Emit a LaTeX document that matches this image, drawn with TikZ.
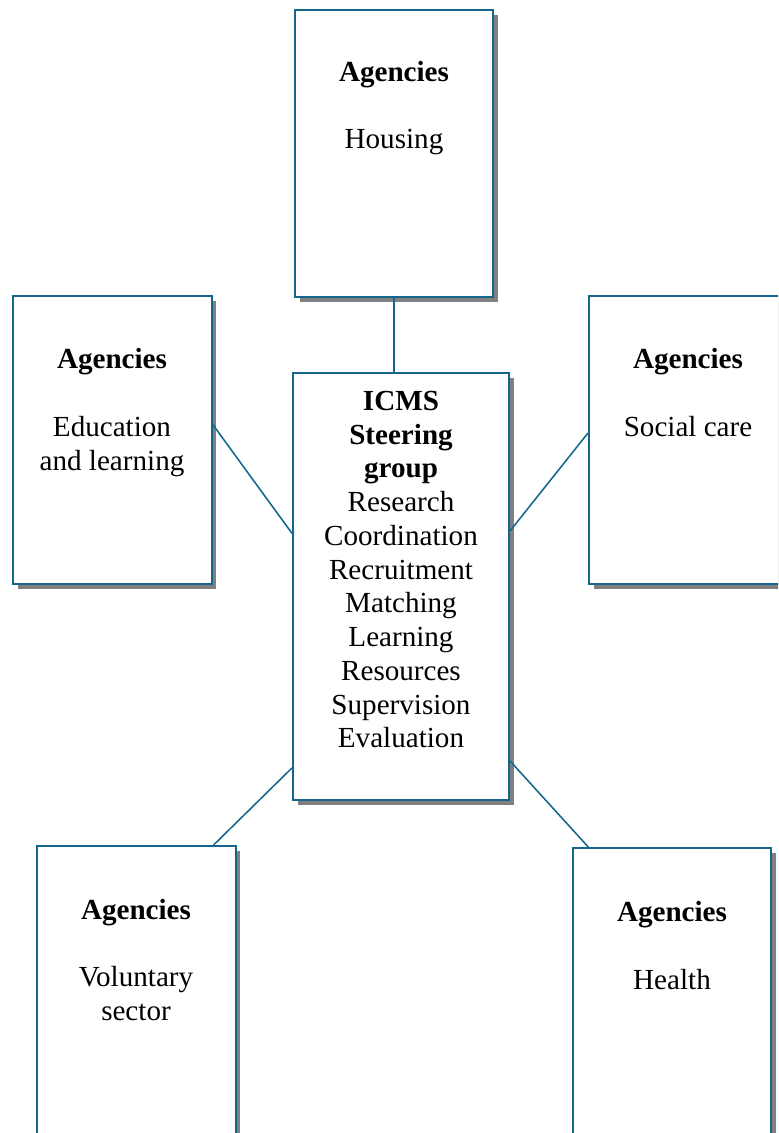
\documentclass[tikz,border=0pt]{standalone}
\usepackage{fontspec}
\setmainfont{Liberation Serif}
\usepackage{tikz}
\usetikzlibrary{shapes,positioning,shadows}
\definecolor{icmsblue}{RGB}{20,102,140}
\definecolor{icmsgray}{RGB}{128,128,128}
\tikzstyle{agency} = [rectangle, minimum width=4.95cm, minimum height=7.2cm, draw=icmsblue, fill=white, line width=1.4pt, drop shadow={shadow xshift=3.5pt, shadow yshift=-3.5pt, fill=icmsgray, opacity=1}]
\tikzstyle{agtext} = [align=center, inner sep=0pt, font=\fontsize{20.7}{24}\selectfont]
\tikzstyle{link} = [line width=1.1pt, color=icmsblue]

\begin{document}
\begin{tikzpicture}[x=0.025cm, y=-0.025cm]
\useasboundingbox (0,0) rectangle (778,1133);
\clip (0,0) rectangle (778,1133);
% boxes
\node[agency, minimum height=7.175cm] (housing) at (394,153.5) {};
\node[agency] (education) at (112.5,440) {};
\node[agency] (social) at (688,440) {};
\node[agency, minimum width=5.4cm, minimum height=10.675cm] (steering) at (401,586.5) {};
\node[agency] (voluntary) at (136.5,990) {};
\node[agency] (health) at (672,992) {};

% texts
\node[agtext] (housingtxt) at (394,108) {\textbf{Agencies}\\[24pt]Housing};
\node[agtext] (educationtxt) at (112,412.5) {\textbf{Agencies}\\[24pt]Education\\and learning};
\node[agtext] (socialtxt) at (688,392.5) {\textbf{Agencies}\\[24pt]Social care};
\node[agtext] (steeringtxt) at (401,569.5) {\textbf{ICMS}\\\textbf{Steering}\\\textbf{group}\\Research\\Coordination\\Recruitment\\Matching\\Learning\\Resources\\Supervision\\Evaluation};
\node[agtext] (voluntarytxt) at (136,960) {\textbf{Agencies}\\[24pt]Voluntary\\sector};
\node[agtext] (healthtxt) at (672,945.5) {\textbf{Agencies}\\[24pt]Health};

% links
\draw[link] (housing.south) -- (housing.south |- steering.north);
\draw[link] (education.9) -- (steering.154.5);
\draw[link] (social.176) -- (steering.27.6);
\draw[link] (voluntary.62) -- (steering.239.4);
\draw[link] (health.120) -- (steering.302);
\end{tikzpicture}
\end{document}
